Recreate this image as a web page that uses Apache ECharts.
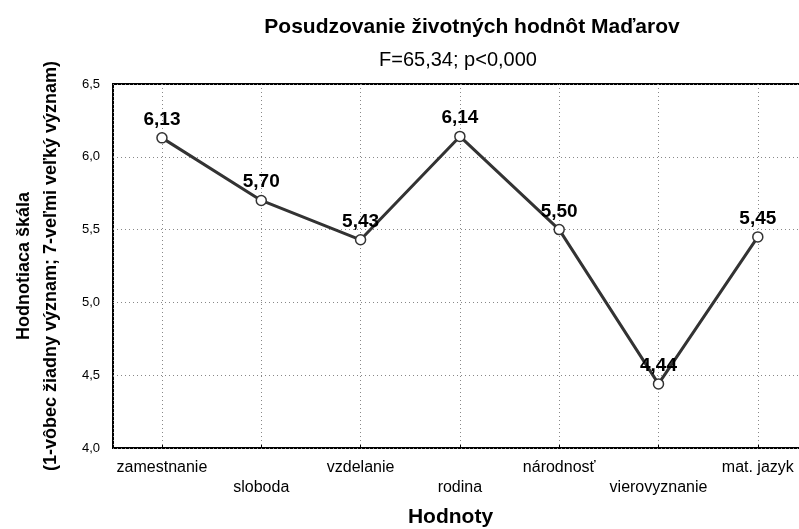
<!DOCTYPE html>
<html>
<head>
<meta charset="utf-8">
<title>Posudzovanie životných hodnôt Maďarov</title>
<script src="https://cdn.jsdelivr.net/npm/echarts@6/dist/echarts.min.js"></script>
</head>
<body style="margin:0;background:#fff">
<div id="container" style="width:799px;height:529px;"></div>
<script type="text/javascript">
// kategórie a priemery
var categories = ['zamestnanie', 'sloboda', 'vzdelanie', 'rodina', 'národnosť', 'vierovyznanie', 'mat. jazyk'];
var values = [6.13, 5.70, 5.43, 6.14, 5.50, 4.44, 5.45];
var yTicks = [4.0, 4.5, 5.0, 5.5, 6.0, 6.5];

var seriesData = [];
for (var i = 0; i < values.length; i++) {
    seriesData.push([i, values[i]]);
}

function comma(v, d) {
    return v.toFixed(d).replace('.', ',');
}

var font = 'Liberation Sans, Arial, sans-serif';
var dots = { color: '#888', type: [1, 3], width: 1 };

var option = {
    animation: false,
    textStyle: { fontFamily: font },
    title: [
        {
            text: 'Posudzovanie životných hodnôt Maďarov',
            left: 467, top: 12, textAlign: 'center',
            textStyle: { fontSize: 21, fontWeight: 'bold', color: '#000', fontFamily: font }
        },
        {
            text: 'F=65,34; p<0,000',
            left: 453, top: 45, textAlign: 'center',
            textStyle: { fontSize: 20, fontWeight: 'normal', color: '#000', fontFamily: font }
        }
    ],
    grid: {
        left: 113, right: -3, top: 84, bottom: 81,
        outerBoundsMode: 'none',
        containLabel: false,
        show: true, borderColor: '#000', borderWidth: 2
    },
    xAxis: {
        type: 'value',
        min: -0.493, max: 6.445,
        splitNumber: 7,
        name: 'Hodnoty',
        nameLocation: 'middle',
        nameMoveOverlap: false,
        nameGap: 59,
        nameTextStyle: { fontSize: 21, fontWeight: 'bold', color: '#000', padding: [0, 14, 0, 0] },
        axisLine: { show: false },
        axisTick: { show: true, inside: true, length: 3, lineStyle: { color: '#000' } },
        axisLabel: {
            color: '#000', fontSize: 16, margin: 10, lineHeight: 20,
            showMinLabel: false, showMaxLabel: false,
            formatter: function (v) {
                var i = Math.round(v);
                if (Math.abs(v - i) > 1e-6 || !categories[i]) return '';
                return (i % 2 ? '\n' : '') + categories[i];
            }
        },
        splitLine: { show: true, lineStyle: dots }
    },
    yAxis: {
        type: 'value',
        min: yTicks[0], max: yTicks[yTicks.length - 1], interval: 0.5,
        name: 'Hodnotiaca škála\n(1-vôbec žiadny význam; 7-veľmi veľký význam)',
        nameLocation: 'middle',
        nameMoveOverlap: false,
        nameGap: 48,
        nameRotate: 90,
        nameTextStyle: { fontSize: 18, fontWeight: 'bold', color: '#000', lineHeight: 27 },
        axisLine: { show: false },
        axisTick: { show: false },
        axisLabel: {
            color: '#000', fontSize: 13, margin: 13,
            formatter: function (v) { return comma(v, 1); }
        },
        splitLine: { show: true, lineStyle: dots }
    },
    series: [
        {
            type: 'line',
            data: seriesData,
            symbol: 'circle',
            symbolSize: 10,
            lineStyle: { color: '#333', width: 3 },
            itemStyle: { color: '#fff', borderColor: '#333', borderWidth: 1.5 },
            label: {
                show: true, position: 'top', distance: 3,
                fontSize: 19, fontWeight: 'bold', color: '#000',
                formatter: function (p) { return comma(p.value[1], 2); }
            },
            z: 5
        }
    ]
};

var myChart = echarts.init(document.getElementById('container'));
myChart.setOption(option);
</script>
</body>
</html>
